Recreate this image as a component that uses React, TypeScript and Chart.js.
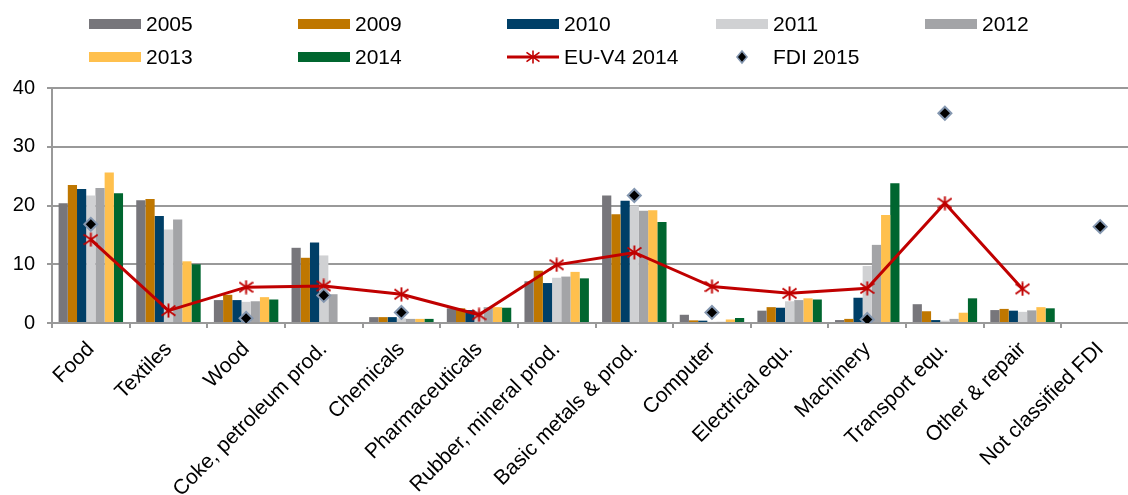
import React, { useEffect, useRef } from 'react';
import { Chart, registerables } from 'chart.js';

Chart.register(...registerables);

const categories = [
  'Food',
  'Textiles',
  'Wood',
  'Coke, petroleum prod.',
  'Chemicals',
  'Pharmaceuticals',
  'Rubber, mineral prod.',
  'Basic metals & prod.',
  'Computer',
  'Electrical equ.',
  'Machinery',
  'Transport equ.',
  'Other & repair',
  'Not classified FDI',
];

const v2005 = [20.4, 20.9, 3.9, 12.8, 1.0, 2.5, 7.1, 21.7, 1.4, 2.1, 0.5, 3.2, 2.2, null];
const v2009 = [23.5, 21.1, 4.8, 11.1, 1.0, 2.5, 8.9, 18.5, 0.45, 2.7, 0.7, 2.0, 2.4, null];
const v2010 = [22.8, 18.2, 3.9, 13.7, 1.0, 2.2, 6.8, 20.8, 0.4, 2.6, 4.3, 0.5, 2.1, null];
const v2011 = [21.7, 15.9, 3.6, 11.5, 0.8, 2.0, 7.7, 20.0, 0.2, 3.7, 9.7, 0.4, 1.9, null];
const v2012 = [23.0, 17.6, 3.7, 4.9, 0.7, 2.7, 7.9, 19.1, 0.2, 3.9, 13.3, 0.7, 2.15, null];
const v2013 = [25.6, 10.5, 4.4, null, 0.7, 2.7, 8.7, 19.2, 0.6, 4.2, 18.4, 1.75, 2.7, null];
const v2014 = [22.1, 10.0, 4.0, null, 0.7, 2.6, 7.6, 17.2, 0.85, 4.0, 23.8, 4.2, 2.5, null];
const euV4 = [14.2, 2.1, 6.1, 6.3, 4.9, 1.4, 9.9, 12.0, 6.2, 5.05, 5.9, 20.4, 5.8, null];
const fdi2015 = [16.8, null, 0.8, 4.7, 1.8, null, null, 21.7, 1.8, null, 0.6, 35.7, null, 16.4];

const yTicks = [0, 10, 20, 30, 40];

const barSeries = [
  { label: '2005', data: v2005, color: '#77767b' },
  { label: '2009', data: v2009, color: '#bf7700' },
  { label: '2010', data: v2010, color: '#003f67' },
  { label: '2011', data: v2011, color: '#d0d1d3' },
  { label: '2012', data: v2012, color: '#a3a4a7' },
  { label: '2013', data: v2013, color: '#ffc04d' },
  { label: '2014', data: v2014, color: '#00662f' },
];

const RED = '#c00000';
const FONT = "'Liberation Sans', Arial, sans-serif";

function makeStar(size: number, color: string, lw: number) {
  const c = document.createElement('canvas');
  c.width = size;
  c.height = size;
  const ctx = c.getContext('2d')!;
  ctx.strokeStyle = color;
  ctx.lineWidth = lw;
  ctx.lineCap = 'butt';
  const m = size / 2;
  const r = size / 2 - 0.5;
  ctx.beginPath();
  ctx.moveTo(m, m - r);
  ctx.lineTo(m, m + r);
  ctx.moveTo(m - r, m - r * 0.72);
  ctx.lineTo(m + r, m + r * 0.72);
  ctx.moveTo(m - r, m + r * 0.72);
  ctx.lineTo(m + r, m - r * 0.72);
  ctx.stroke();
  return c;
}

function StarSvg() {
  const m = 7;
  const r = 6.5;
  return (
    <svg width={52} height={14} style={{ display: 'block' }}>
      <line x1={0} y1={m} x2={52} y2={m} stroke={RED} strokeWidth={3} />
      <g transform={`translate(${26 - m},0)`}>
        <line x1={m} y1={m - r} x2={m} y2={m + r} stroke={RED} strokeWidth={1.6} />
        <line x1={m - r} y1={m - r * 0.72} x2={m + r} y2={m + r * 0.72} stroke={RED} strokeWidth={1.6} />
        <line x1={m - r} y1={m + r * 0.72} x2={m + r} y2={m - r * 0.72} stroke={RED} strokeWidth={1.6} />
      </g>
    </svg>
  );
}

function DiamondSvg() {
  return (
    <svg width={52} height={16} style={{ display: 'block' }}>
      <polygon points="26,2 31,8 26,14 21,8" fill="#000" stroke="#8497b0" strokeWidth={1.6} />
    </svg>
  );
}

const legendCols = [89, 298, 507, 716, 925];
const legendRows = [24, 56.5];

export default function App() {
  const ref = useRef<HTMLCanvasElement>(null);

  useEffect(() => {
    document.body.style.margin = '0';
    const star = makeStar(15, RED, 1.9);
    const datasets: any[] = [
      {
        type: 'line',
        label: 'FDI 2015',
        data: fdi2015,
        showLine: false,
        pointStyle: 'rectRot',
        pointRadius: 6.5,
        pointBackgroundColor: '#000000',
        pointBorderColor: '#8497b0',
        pointBorderWidth: 2,
        order: 0,
      },
      {
        type: 'line',
        label: 'EU-V4 2014',
        data: euV4,
        borderColor: RED,
        backgroundColor: RED,
        borderWidth: 3,
        tension: 0,
        pointStyle: star,
        pointRadius: 7,
        spanGaps: false,
        order: 1,
      },
      ...barSeries.map((s) => ({
        type: 'bar',
        label: s.label,
        data: s.data,
        backgroundColor: s.color,
        borderWidth: 0,
        categoryPercentage: 0.83,
        barPercentage: 1.0,
        order: 2,
      })),
    ];

    const chart = new Chart(ref.current!, {
      type: 'bar',
      data: { labels: categories, datasets },
      options: {
        animation: false,
        responsive: false,
        maintainAspectRatio: false,
        layout: { padding: { top: 88, left: 0, right: 0, bottom: 0 } },
        plugins: {
          legend: { display: false },
          tooltip: { enabled: false },
        },
        scales: {
          x: {
            offset: true,
            grid: {
              offset: true,
              drawOnChartArea: false,
              drawTicks: true,
              tickLength: 5,
              color: '#999999',
              lineWidth: 2,
            },
            border: { color: '#999999', width: 2 },
            ticks: {
              autoSkip: false,
              maxRotation: 45,
              minRotation: 45,
              color: '#000000',
              font: { family: FONT, size: 21 },
              padding: 9,
            },
            afterFit: (s: any) => {
              s.height = 172;
            },
          },
          y: {
            min: yTicks[0],
            max: yTicks[yTicks.length - 1],
            afterBuildTicks: (s: any) => {
              s.ticks = yTicks.map((v) => ({ value: v }));
            },
            ticks: {
              color: '#000000',
              font: { family: FONT, size: 20 },
              padding: 12,
            },
            grid: { color: '#999999', lineWidth: 2, tickLength: 5 },
            border: { color: '#999999', width: 2 },
            afterFit: (s: any) => {
              s.width = 52;
            },
          },
        },
      } as any,
    });
    return () => chart.destroy();
  }, []);

  const legendItems: { label: string; marker: React.ReactNode }[] = [
    ...barSeries.map((s) => ({
      label: s.label,
      marker: <div style={{ width: 52, height: 10, background: s.color }} />,
    })),
    { label: 'EU-V4 2014', marker: <StarSvg /> },
    { label: 'FDI 2015', marker: <DiamondSvg /> },
  ];

  return (
    <div
      style={{
        position: 'fixed',
        left: 0,
        top: 0,
        width: 1128,
        height: 495,
        overflow: 'hidden',
        background: '#ffffff',
      }}
    >
      <canvas
        ref={ref}
        width={1149}
        height={495}
        style={{ position: 'absolute', left: 0, top: 0, width: 1149, height: 495 }}
      />
      {legendItems.map((it, i) => {
        const row = i < 5 ? 0 : 1;
        const col = i < 5 ? i : i - 5;
        return (
          <div
            key={it.label}
            style={{
              position: 'absolute',
              left: legendCols[col],
              top: legendRows[row] - 15,
              height: 30,
              display: 'flex',
              alignItems: 'center',
              fontFamily: FONT,
              fontSize: 21,
              color: '#000',
              whiteSpace: 'nowrap',
            }}
          >
            {it.marker}
            <span style={{ marginLeft: 5 }}>{it.label}</span>
          </div>
        );
      })}
    </div>
  );
}
